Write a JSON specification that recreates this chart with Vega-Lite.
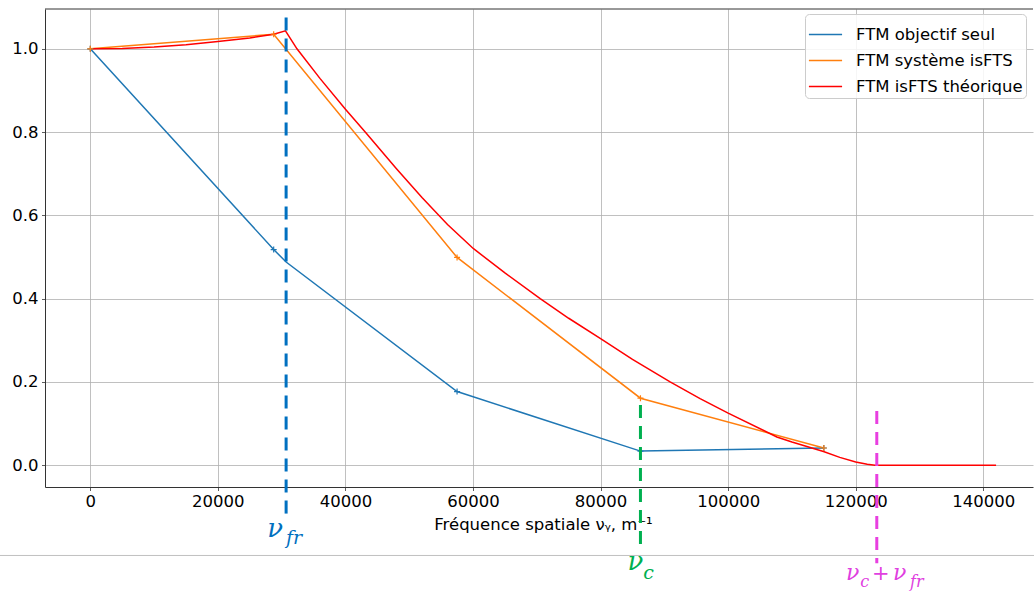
{
  "$schema": "https://vega.github.io/schema/vega-lite/v6.json",
  "autosize": "none",
  "width": 988,
  "height": 478,
  "padding": {"left": 45, "top": 9, "right": 1, "bottom": 106},
  "background": "white",
  "config": {"view": {"stroke": null}, "font": "DejaVu Sans"},
  "datasets": {
    "ftm": [
      {"nu": 0, "ftm": 1.0, "serie": "FTM objectif seul"},
      {"nu": 28750, "ftm": 0.518, "serie": "FTM objectif seul"},
      {"nu": 30700, "ftm": 0.488, "serie": "FTM objectif seul"},
      {"nu": 57500, "ftm": 0.177, "serie": "FTM objectif seul"},
      {"nu": 86250, "ftm": 0.034, "serie": "FTM objectif seul"},
      {"nu": 115000, "ftm": 0.0415, "serie": "FTM objectif seul"},
      {"nu": 0, "ftm": 1.0, "serie": "FTM système isFTS"},
      {"nu": 28750, "ftm": 1.035, "serie": "FTM système isFTS"},
      {"nu": 57500, "ftm": 0.499, "serie": "FTM système isFTS"},
      {"nu": 86250, "ftm": 0.161, "serie": "FTM système isFTS"},
      {"nu": 115000, "ftm": 0.0415, "serie": "FTM système isFTS"},
      {"nu": 0, "ftm": 1.0, "serie": "FTM isFTS théorique"},
      {"nu": 5000, "ftm": 1.001, "serie": "FTM isFTS théorique"},
      {"nu": 10000, "ftm": 1.0044, "serie": "FTM isFTS théorique"},
      {"nu": 15000, "ftm": 1.0098, "serie": "FTM isFTS théorique"},
      {"nu": 20000, "ftm": 1.0175, "serie": "FTM isFTS théorique"},
      {"nu": 25000, "ftm": 1.026, "serie": "FTM isFTS théorique"},
      {"nu": 28750, "ftm": 1.035, "serie": "FTM isFTS théorique"},
      {"nu": 30600, "ftm": 1.0432, "serie": "FTM isFTS théorique"},
      {"nu": 32400, "ftm": 1.0, "serie": "FTM isFTS théorique"},
      {"nu": 36000, "ftm": 0.929, "serie": "FTM isFTS théorique"},
      {"nu": 40000, "ftm": 0.855, "serie": "FTM isFTS théorique"},
      {"nu": 43100, "ftm": 0.8, "serie": "FTM isFTS théorique"},
      {"nu": 48000, "ftm": 0.712, "serie": "FTM isFTS théorique"},
      {"nu": 52000, "ftm": 0.643, "serie": "FTM isFTS théorique"},
      {"nu": 56000, "ftm": 0.578, "serie": "FTM isFTS théorique"},
      {"nu": 60080, "ftm": 0.52, "serie": "FTM isFTS théorique"},
      {"nu": 65000, "ftm": 0.462, "serie": "FTM isFTS théorique"},
      {"nu": 70530, "ftm": 0.4, "serie": "FTM isFTS théorique"},
      {"nu": 75000, "ftm": 0.353, "serie": "FTM isFTS théorique"},
      {"nu": 80000, "ftm": 0.304, "serie": "FTM isFTS théorique"},
      {"nu": 85000, "ftm": 0.254, "serie": "FTM isFTS théorique"},
      {"nu": 90900, "ftm": 0.2, "serie": "FTM isFTS théorique"},
      {"nu": 95600, "ftm": 0.16, "serie": "FTM isFTS théorique"},
      {"nu": 100000, "ftm": 0.125, "serie": "FTM isFTS théorique"},
      {"nu": 107630, "ftm": 0.068, "serie": "FTM isFTS théorique"},
      {"nu": 110000, "ftm": 0.056, "serie": "FTM isFTS théorique"},
      {"nu": 114940, "ftm": 0.033, "serie": "FTM isFTS théorique"},
      {"nu": 117500, "ftm": 0.019, "serie": "FTM isFTS théorique"},
      {"nu": 120000, "ftm": 0.008, "serie": "FTM isFTS théorique"},
      {"nu": 121800, "ftm": 0.0022, "serie": "FTM isFTS théorique"},
      {"nu": 123040, "ftm": 0, "serie": "FTM isFTS théorique"},
      {"nu": 142000, "ftm": 0, "serie": "FTM isFTS théorique"}
    ],
    "one": [{}]
  },
  "layer": [
    {
      "data": {"name": "ftm"},
      "mark": {"type": "line", "strokeWidth": 1.5},
      "encoding": {
        "x": {
          "field": "nu", "type": "quantitative",
          "scale": {"domain": [-7100, 147790], "nice": false, "zero": false},
          "axis": {
            "values": [0, 20000, 40000, 60000, 80000, 100000, 120000, 140000],
            "format": "d",
            "grid": true, "gridColor": "#b0b0b0", "gridWidth": 0.8,
            "domainColor": "#333333", "domainWidth": 1,
            "tickColor": "#333333", "tickSize": 3.5, "tickWidth": 0.8,
            "labelFont": "DejaVu Sans", "labelFontSize": 16.5, "labelColor": "#000000", "labelPadding": 3,
            "labelFlush": false, "labelOverlap": false,
            "title": "Fréquence spatiale νᵧ, m⁻¹",
            "titleFont": "DejaVu Sans", "titleFontSize": 16.5, "titleFontWeight": "normal", "titleColor": "#000000",
            "titleX": 498, "titleY": 42, "titleBaseline": "alphabetic", "titleAlign": "center", "titleAnchor": null
          }
        },
        "y": {
          "field": "ftm", "type": "quantitative",
          "scale": {"domain": [-0.0522, 1.0956], "nice": false, "zero": false},
          "axis": {
            "values": [0, 0.2, 0.4, 0.6, 0.8, 1.0],
            "format": ".1f",
            "grid": true, "gridColor": "#b0b0b0", "gridWidth": 0.8,
            "domainColor": "#333333", "domainWidth": 1,
            "tickColor": "#333333", "tickSize": 3.5, "tickWidth": 0.8,
            "labelFont": "DejaVu Sans", "labelFontSize": 16.5, "labelColor": "#000000", "labelPadding": 3.5,
            "labelFlush": false, "labelOverlap": false,
            "title": null
          }
        },
        "color": {
          "field": "serie", "type": "nominal",
          "scale": {
            "domain": ["FTM objectif seul", "FTM système isFTS", "FTM isFTS théorique"],
            "range": ["#1f77b4", "#ff7f0e", "#ff0000"]
          },
          "legend": {
            "title": null, "orient": "none", "legendX": 760, "legendY": 5,
            "symbolType": "stroke", "symbolSize": 1100, "symbolStrokeWidth": 1.5,
            "labelFont": "DejaVu Sans", "labelFontSize": 16.5, "labelColor": "#000000", "labelLimit": 400,
            "labelOffset": 13, "rowPadding": -1, "padding": 3,
            "fillColor": "rgba(255,255,255,0.85)", "strokeColor": "#cccccc", "cornerRadius": 4
          }
        }
      }
    },
    {
      "data": {"name": "ftm"},
      "transform": [{"filter": "datum.serie != 'FTM isFTS théorique' && datum.nu % 28750 == 0"}],
      "mark": {"type": "point", "shape": "M-1,0L1,0M0,-1L0,1", "filled": false, "size": 36, "strokeWidth": 1.2, "opacity": 1},
      "encoding": {
        "x": {"field": "nu", "type": "quantitative"},
        "y": {"field": "ftm", "type": "quantitative"},
        "stroke": {
          "field": "serie", "type": "nominal",
          "scale": {
            "domain": ["FTM objectif seul", "FTM système isFTS", "FTM isFTS théorique"],
            "range": ["#1f77b4", "#ff7f0e", "#ff0000"]
          },
          "legend": null
        }
      }
    },
    {
      "data": {"name": "one"},
      "mark": {"type": "rule", "color": "#333333", "strokeWidth": 1},
      "encoding": {"x": {"datum": -7100}, "x2": {"datum": 147790}, "y": {"datum": 1.0956}}
    },
    {
      "data": {"name": "one"},
      "mark": {"type": "rule", "color": "#c0c0c0", "strokeWidth": 1, "clip": false},
      "encoding": {"x": {"datum": -14300}, "x2": {"datum": 148100}, "y": {"datum": -0.2166}}
    },
    {
      "data": {"name": "one"},
      "mark": {"type": "rule", "color": "#0070c0", "strokeWidth": 3, "strokeDash": [13, 8], "clip": false},
      "encoding": {"x": {"datum": 30700}, "y": {"datum": 1.075}, "y2": {"datum": -0.12}}
    },
    {
      "data": {"name": "one"},
      "mark": {"type": "rule", "color": "#00b050", "strokeWidth": 3, "strokeDash": [13, 8], "clip": false},
      "encoding": {"x": {"datum": 86250}, "y": {"datum": 0.145}, "y2": {"datum": -0.192}}
    },
    {
      "data": {"name": "one"},
      "mark": {"type": "rule", "color": "#e83fe0", "strokeWidth": 3, "strokeDash": [13, 8], "clip": false},
      "encoding": {"x": {"datum": 123300}, "y": {"datum": 0.13}, "y2": {"datum": -0.235}}
    },
    {
      "data": {"name": "one"},
      "mark": {"type": "text", "text": "ν", "font": "DejaVu Serif", "fontStyle": "italic", "fontSize": 26, "color": "#0070c0", "align": "center", "baseline": "alphabetic", "dx": -11},
      "encoding": {"x": {"datum": 30700}, "y": {"datum": -0.1728}}
    },
    {
      "data": {"name": "one"},
      "mark": {"type": "text", "text": "fr", "font": "DejaVu Serif", "fontStyle": "italic", "fontSize": 19, "color": "#0070c0", "align": "center", "baseline": "alphabetic", "dx": 8},
      "encoding": {"x": {"datum": 30700}, "y": {"datum": -0.188}}
    },
    {
      "data": {"name": "one"},
      "mark": {"type": "text", "text": "ν", "font": "DejaVu Serif", "fontStyle": "italic", "fontSize": 26, "color": "#00b050", "align": "center", "baseline": "alphabetic", "dx": -5},
      "encoding": {"x": {"datum": 86250}, "y": {"datum": -0.2527}}
    },
    {
      "data": {"name": "one"},
      "mark": {"type": "text", "text": "c", "font": "DejaVu Serif", "fontStyle": "italic", "fontSize": 19, "color": "#00b050", "align": "center", "baseline": "alphabetic", "dx": 8},
      "encoding": {"x": {"datum": 86250}, "y": {"datum": -0.2743}}
    },
    {
      "data": {"name": "one"},
      "mark": {"type": "text", "text": "ν", "font": "DejaVu Serif", "fontStyle": "italic", "fontSize": 22, "color": "#e040e0", "align": "center", "baseline": "alphabetic", "dx": -24},
      "encoding": {"x": {"datum": 123300}, "y": {"datum": -0.2767}}
    },
    {
      "data": {"name": "one"},
      "mark": {"type": "text", "text": "c", "font": "DejaVu Serif", "fontStyle": "italic", "fontSize": 16, "color": "#e040e0", "align": "center", "baseline": "alphabetic", "dx": -12},
      "encoding": {"x": {"datum": 123300}, "y": {"datum": -0.2935}}
    },
    {
      "data": {"name": "one"},
      "mark": {"type": "text", "text": "+", "font": "DejaVu Serif", "fontSize": 21, "color": "#e040e0", "align": "center", "baseline": "alphabetic", "dx": 4},
      "encoding": {"x": {"datum": 123300}, "y": {"datum": -0.2767}}
    },
    {
      "data": {"name": "one"},
      "mark": {"type": "text", "text": "ν", "font": "DejaVu Serif", "fontStyle": "italic", "fontSize": 22, "color": "#e040e0", "align": "center", "baseline": "alphabetic", "dx": 23},
      "encoding": {"x": {"datum": 123300}, "y": {"datum": -0.2767}}
    },
    {
      "data": {"name": "one"},
      "mark": {"type": "text", "text": "fr", "font": "DejaVu Serif", "fontStyle": "italic", "fontSize": 16, "color": "#e040e0", "align": "center", "baseline": "alphabetic", "dx": 40},
      "encoding": {"x": {"datum": 123300}, "y": {"datum": -0.2935}}
    }
  ]
}
